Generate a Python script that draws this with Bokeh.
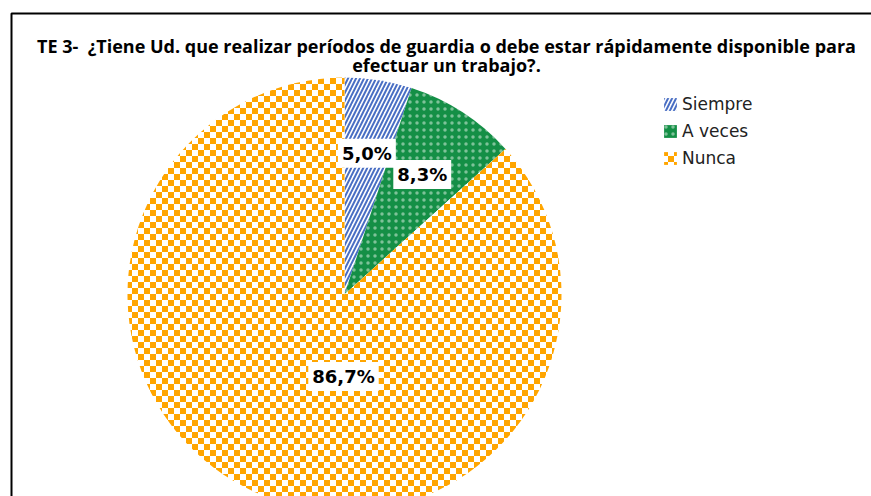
import math, zlib, struct, base64
from bokeh.plotting import figure
from bokeh.models import Range1d, Legend, LegendItem, ImageURLTexture
from bokeh.core.properties import value
from bokeh.embed import file_html
from bokeh.resources import INLINE

# ---- data ----
categories = ["Siempre", "A veces", "Nunca"]
percentages = [5.0, 8.3, 86.7]
title_lines = ["TE 3-\u00a0 ¿Tiene Ud. que realizar períodos de guardia o debe estar rápidamente disponible para",
               "efectuar un trabajo?."]

# ---- helpers ----
def png_uri(w, h, fn):
    raw = b""
    for y in range(h):
        raw += b"\x00" + b"".join(bytes(fn(x, y)) for x in range(w))
    def chunk(t, d):
        return struct.pack(">I", len(d)) + t + d + struct.pack(">I", zlib.crc32(t + d) & 0xffffffff)
    png = (b"\x89PNG\r\n\x1a\n" + chunk(b"IHDR", struct.pack(">IIBBBBB", w, h, 8, 6, 0, 0, 0))
           + chunk(b"IDAT", zlib.compress(raw)) + chunk(b"IEND", b""))
    return "data:image/png;base64," + base64.b64encode(png).decode()

ORANGE = (255, 165, 0, 255)
WHITE = (255, 255, 255, 255)
checker_uri = png_uri(12, 12, lambda x, y: ORANGE if ((x // 6) + (y // 6)) % 2 == 0 else WHITE)
checker = ImageURLTexture(url=checker_uri, repetition="repeat")

W, H = 871, 496
p = figure(width=W, height=H, x_range=Range1d(0, W), y_range=Range1d(0, H),
           output_backend="svg", toolbar_location=None, min_border=0,
           x_axis_type=None, y_axis_type=None, outline_line_color=None)
p.grid.visible = False

# chart frame (only top/left edges fall inside the window)
p.line(x=[11, 11, 5000], y=[-500, 483, 483], line_color="black", line_width=2)

cx, cy, R = 344, 202, 217
starts, ends, mids = [], [], []
cum = 0.0
for v in percentages:
    s = math.pi / 2 - 2 * math.pi * cum / 100
    cum += v
    e = math.pi / 2 - 2 * math.pi * cum / 100
    starts.append(s); ends.append(e); mids.append((s + e) / 2)

styles = [
    dict(fill_color="white", hatch_pattern="/", hatch_color="#4A6FC4", hatch_scale=8, hatch_weight=2),
    dict(fill_color="#148F46", hatch_pattern=".", hatch_color="white", hatch_scale=7, hatch_weight=1, hatch_alpha=0.45),
    dict(fill_color="white", hatch_pattern=value("checker"), hatch_extra={"checker": checker}),
]
items = []
for i, cat in enumerate(categories):
    r = p.wedge(x=[cx], y=[cy], radius=R, start_angle=[starts[i]], end_angle=[ends[i]],
                direction="clock", line_color=None, **styles[i])
    items.append(LegendItem(label=cat, renderers=[r]))

# data labels
label_r = [143, 143, 82]
label_ang = [mids[0], mids[1], math.radians(-90.7)]
lx = [cx + rr * math.cos(a) for rr, a in zip(label_r, label_ang)]
ly = [cy + rr * math.sin(a) for rr, a in zip(label_r, label_ang)]
ltxt = [("%.1f%%" % v).replace(".", ",") for v in percentages]
p.text(x=lx, y=ly, text=ltxt, text_align="center", text_baseline="middle",
       text_font=value("DejaVu Sans"), text_font_style="bold", text_font_size="18px",
       text_color="black", background_fill_color="white", padding=4)

# title
p.text(x=[446, 446], y=[451, 432], text=title_lines, text_align="center", text_baseline="alphabetic",
       text_font=value("Open Sans"), text_font_style="bold", text_font_size="18px", text_color="black")

legend = Legend(items=items, location=(662, 328), orientation="vertical",
                glyph_width=16, glyph_height=16, label_height=16, spacing=7,
                label_standoff=4, padding=0, margin=0, border_line_color=None,
                background_fill_alpha=0, label_text_font="DejaVu Sans",
                label_text_font_size="17px", label_text_color="#222222")
p.add_layout(legend)

open("out.html", "w").write(file_html(p, INLINE))
